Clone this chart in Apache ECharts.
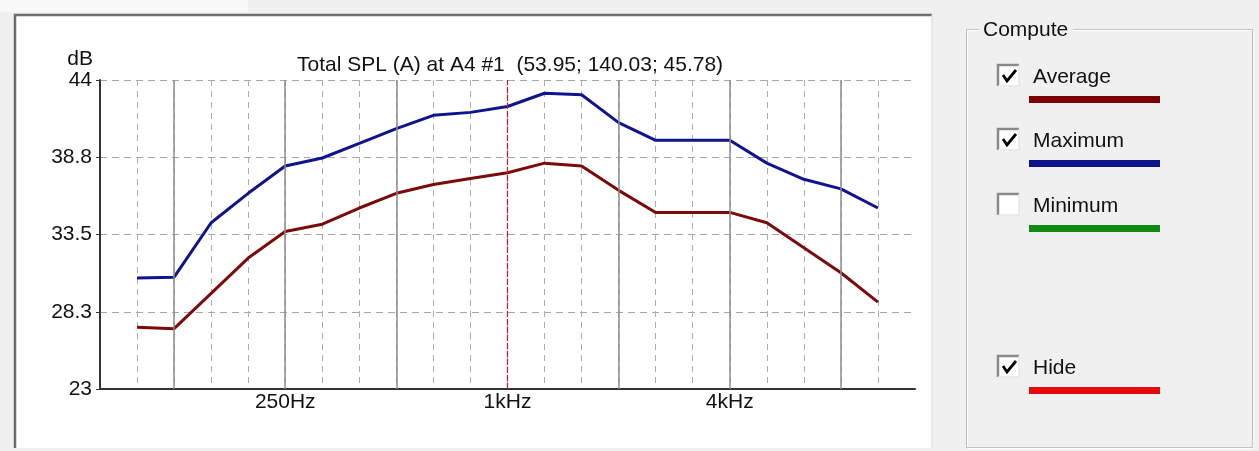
<!DOCTYPE html>
<html><head><meta charset="utf-8">
<script src="https://cdn.jsdelivr.net/npm/echarts@6.0.0/dist/echarts.min.js"></script>
<style>html,body{margin:0;padding:0;background:#f0f0f0;}#c{width:1259px;height:451px;}</style>
</head><body><div id="c"></div>
<script>
// 1/3-octave band centres on the x axis (80 Hz .. 12.5 kHz)
const bands = ['80','100','125','160','200','250','315','400','500','630','800','1k','1.25k','1.6k','2k','2.5k','3.15k','4k','5k','6.3k','8k','10k','12.5k'];
// bands that carry data: 100 Hz .. 10 kHz
const dataBands = bands.slice(1, 22);
const averageDb = [27.2,27.1,29.5,31.9,33.7,34.2,35.3,36.3,36.9,37.3,37.7,38.35,38.15,36.5,35.0,35.0,35.0,34.3,32.6,30.9,28.9];
const maximumDb = [30.55,30.6,34.3,36.3,38.15,38.7,39.7,40.7,41.6,41.8,42.2,43.1,43.0,41.1,39.9,39.9,39.9,38.35,37.25,36.6,35.3];
const xTickLabels = {'250':'250Hz','1k':'1kHz','4k':'4kHz'};
const octaveBands = ['125','250','500','2k','4k','8k'];
const cursorBand = '1k';
const yTicks = [23, 28.25, 33.5, 38.75, 44];
const titleText = 'Total SPL (A) at A4 #1  (53.95; 140.03; 45.78)';
const legendItems = [
  {name:'Average', checked:true,  color:'#7d0000'},
  {name:'Maximum', checked:true,  color:'#0a1488'},
  {name:'Minimum', checked:false, color:'#118a11'},
  {name:'Hide',    checked:true,  color:'#e60a0a'}
];

const FONT = '"Liberation Sans", Arial, sans-serif';
const chart = echarts.init(document.getElementById('c'), null, {renderer:'canvas'});

const legendY = [65, 129, 194, 356];
const graphics = [
  {type:'rect', z:-5, shape:{x:0,y:0,width:248,height:12}, style:{fill:'#f8f8f8'}},
  {type:'rect', z:-5, shape:{x:15,y:15,width:917,height:433}, style:{fill:'#ffffff'}},
  {type:'polyline', z:-4, shape:{points:[[15,448],[15,15],[932,15]]}, style:{stroke:'#6e6e6e', lineWidth:2.5, fill:null}},
  {type:'line', z:-4, shape:{x1:932,y1:15,x2:932,y2:448}, style:{stroke:'#e2e2e2', lineWidth:1.5}},
  {type:'rect', z:-4, shape:{x:967.5,y:30.5,width:286,height:418}, style:{fill:null, stroke:'#ffffff', lineWidth:1}},
  {type:'rect', z:-4, shape:{x:966.5,y:29.5,width:286,height:418}, style:{fill:null, stroke:'#c2c2c2', lineWidth:1.2}},
  {type:'rect', z:-3, shape:{x:979,y:22,width:94,height:14}, style:{fill:'#f0f0f0'}},
  {type:'text', z:-2, style:{text:'Compute', x:983, y:30, font:'21px '+FONT, fill:'#111', verticalAlign:'middle'}}
];
legendItems.forEach((it, i) => {
  const y = legendY[i];
  graphics.push({type:'rect', shape:{x:998,y:y,width:21,height:21}, style:{fill:'#ffffff'}});
  graphics.push({type:'polyline', shape:{points:[[998,y+21],[998,y],[1019,y]]}, style:{stroke:'#8a8a8a', lineWidth:2.5, fill:null}});
  graphics.push({type:'polyline', shape:{points:[[998,y+21],[1019,y+21],[1019,y]]}, style:{stroke:'#e6e6e6', lineWidth:1.5, fill:null}});
  if (it.checked) {
    graphics.push({type:'polyline', shape:{points:[[1003,y+10],[1007,y+16],[1016,y+5]]}, style:{stroke:'#000', lineWidth:2.8, fill:null}});
  }
  graphics.push({type:'text', style:{text:it.name, x:1033, y:y+12, font:'21px '+FONT, fill:'#111', verticalAlign:'middle'}});
  graphics.push({type:'rect', shape:{x:1029,y:y+31,width:131,height:7}, style:{fill:it.color}});
});

const option = {
  backgroundColor:'#f0f0f0',
  animation:false,
  textStyle:{fontFamily:FONT},
  title:{text:titleText, left:292, top:48, textStyle:{fontSize:21, fontWeight:'normal', color:'#111', fontFamily:FONT, lineHeight:24}},
  grid:{left:100, right:344, top:80, bottom:62, containLabel:false},
  xAxis:{
    type:'category', data:bands, boundaryGap:false,
    axisLine:{lineStyle:{color:'#333', width:2}},
    axisTick:{show:false},
    axisLabel:{interval:0, margin:3, fontSize:21, color:'#111', fontFamily:FONT,
      formatter:v => xTickLabels[v] || ''},
    splitLine:{show:true, interval:0, showMinLine:false, showMaxLine:false,
      lineStyle:{color:'#acacac', width:1, type:[6,5]}}
  },
  yAxis:{
    type:'value', min:yTicks[0], max:yTicks[yTicks.length-1], interval:yTicks[1]-yTicks[0],
    name:'dB', nameLocation:'end', nameGap:10,
    nameTextStyle:{fontSize:21, color:'#111', align:'right', padding:[0,7,0,0], fontFamily:FONT},
    axisLine:{show:true, lineStyle:{color:'#333', width:2}},
    axisTick:{show:true, length:4, lineStyle:{color:'#333'}},
    axisLabel:{margin:8, fontSize:21, color:'#111', fontFamily:FONT,
      formatter:v => Number.isInteger(v) ? String(v) : v.toFixed(1)},
    splitLine:{show:true, showMinLine:false, lineStyle:{color:'#a6a6a6', width:1, type:[7,5]}}
  },
  series:[
    {name:'Average', type:'line', data:dataBands.map((b,i)=>[b, averageDb[i]]),
      showSymbol:false, symbol:'none', lineStyle:{color:'#7d0a0a', width:3}, z:3,
      markLine:{silent:true, symbol:'none', label:{show:false}, animation:false,
        data:[
          ...octaveBands.map(b => ({xAxis:b, lineStyle:{color:'#8c8c8c', width:1.5, type:'solid'}})),
          {xAxis:cursorBand, lineStyle:{color:'#d41a1a', width:1.2, type:[6,2]}}
        ]}
    },
    {name:'Maximum', type:'line', data:dataBands.map((b,i)=>[b, maximumDb[i]]),
      showSymbol:false, symbol:'none', lineStyle:{color:'#10148c', width:3}, z:4}
  ],
  graphic:graphics
};
chart.setOption(option);
</script>
</body></html>
